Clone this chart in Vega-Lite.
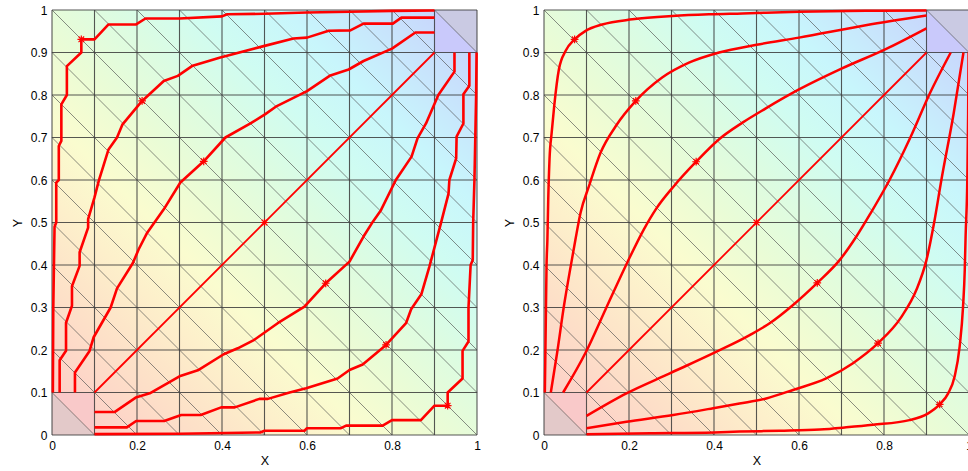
{
"$schema":"https://vega.github.io/schema/vega-lite/v6.json",
"background":"white",
"padding":{"left":11,"top":4,"right":0,"bottom":0},
"spacing":22,
"config":{"view":{"stroke":null},"font":"Liberation Sans",
 "axis":{"grid":false,"domain":false,"ticks":false,"labelFont":"Liberation Sans","labelFontSize":12,"labelColor":"#000","labelPadding":5,"labelFlush":false,"titleFont":"Liberation Sans","titleFontSize":12.5,"titleFontWeight":"normal","titleColor":"#000"},
 "axisX":{"titlePadding":3},"axisY":{"titlePadding":6}},
"datasets":{
"grid":[{"v":0},{"v":0.1},{"v":0.2},{"v":0.3},{"v":0.4},{"v":0.5},{"v":0.6},{"v":0.7},{"v":0.8},{"v":0.9},{"v":1}],
"diag":[{"x":0,"y":0.1,"x2":0.1,"y2":0},{"x":0,"y":0.2,"x2":0.2,"y2":0},{"x":0,"y":0.3,"x2":0.3,"y2":0},{"x":0,"y":0.4,"x2":0.4,"y2":0},{"x":0,"y":0.5,"x2":0.5,"y2":0},{"x":0,"y":0.6,"x2":0.6,"y2":0},{"x":0,"y":0.7,"x2":0.7,"y2":0},{"x":0,"y":0.8,"x2":0.8,"y2":0},{"x":0,"y":0.9,"x2":0.9,"y2":0},{"x":0,"y":1,"x2":1,"y2":0},{"x":0.1,"y":1,"x2":1,"y2":0.1},{"x":0.2,"y":1,"x2":1,"y2":0.2},{"x":0.3,"y":1,"x2":1,"y2":0.3},{"x":0.4,"y":1,"x2":1,"y2":0.4},{"x":0.5,"y":1,"x2":1,"y2":0.5},{"x":0.6,"y":1,"x2":1,"y2":0.6},{"x":0.7,"y":1,"x2":1,"y2":0.7},{"x":0.8,"y":1,"x2":1,"y2":0.8},{"x":0.9,"y":1,"x2":1,"y2":0.9}],
"corner":[{"patch":"s0","x":0,"y":0.1,"y2":0},{"patch":"s0","x":0.1,"y":0,"y2":0},{"patch":"s1","x":0,"y":0.1,"y2":0.1},{"patch":"s1","x":0.1,"y":0.1,"y2":0},{"patch":"k0","x":0.9,"y":1,"y2":0.9},{"patch":"k0","x":1,"y":0.9,"y2":0.9},{"patch":"k1","x":0.9,"y":1,"y2":1},{"patch":"k1","x":1,"y":1,"y2":0.9}],
"stars":[{"p":"A","x":0.069,"y":0.931},{"p":"A","x":0.212,"y":0.786},{"p":"A","x":0.357,"y":0.644},{"p":"A","x":0.5,"y":0.5},{"p":"A","x":0.644,"y":0.357},{"p":"A","x":0.786,"y":0.212},{"p":"A","x":0.931,"y":0.069},
{"p":"B","x":0.072,"y":0.931},{"p":"B","x":0.216,"y":0.786},{"p":"B","x":0.358,"y":0.643},{"p":"B","x":0.5,"y":0.5},{"p":"B","x":0.643,"y":0.358},{"p":"B","x":0.786,"y":0.216},{"p":"B","x":0.931,"y":0.072}],
"flow":[
{"p":"A","id":1,"o":1,"x":0.002,"y":0.1},{"p":"A","id":1,"o":2,"x":0.003,"y":0.3},{"p":"A","id":1,"o":3,"x":0.006,"y":0.49},{"p":"A","id":1,"o":4,"x":0.01,"y":0.5},{"p":"A","id":1,"o":5,"x":0.01,"y":0.594},{"p":"A","id":1,"o":6,"x":0.016,"y":0.6},{"p":"A","id":1,"o":7,"x":0.016,"y":0.68},{"p":"A","id":1,"o":8,"x":0.022,"y":0.692},{"p":"A","id":1,"o":9,"x":0.022,"y":0.778},{"p":"A","id":1,"o":10,"x":0.035,"y":0.8},{"p":"A","id":1,"o":11,"x":0.035,"y":0.868},{"p":"A","id":1,"o":12,"x":0.069,"y":0.9},{"p":"A","id":1,"o":13,"x":0.069,"y":0.931},{"p":"A","id":1,"o":14,"x":0.1,"y":0.931},{"p":"A","id":1,"o":15,"x":0.133,"y":0.966},{"p":"A","id":1,"o":16,"x":0.198,"y":0.966},{"p":"A","id":1,"o":17,"x":0.22,"y":0.98},{"p":"A","id":1,"o":18,"x":0.3,"y":0.98},{"p":"A","id":1,"o":19,"x":0.4,"y":0.985},{"p":"A","id":1,"o":20,"x":0.412,"y":0.99},{"p":"A","id":1,"o":21,"x":0.5,"y":0.991},{"p":"A","id":1,"o":22,"x":0.6,"y":0.994},{"p":"A","id":1,"o":23,"x":0.7,"y":0.996},{"p":"A","id":1,"o":24,"x":0.8,"y":0.998},{"p":"A","id":1,"o":25,"x":0.9,"y":0.999},
{"p":"A","id":2,"o":1,"x":0.018,"y":0.1},{"p":"A","id":2,"o":2,"x":0.018,"y":0.176},{"p":"A","id":2,"o":3,"x":0.033,"y":0.198},{"p":"A","id":2,"o":4,"x":0.033,"y":0.264},{"p":"A","id":2,"o":5,"x":0.047,"y":0.304},{"p":"A","id":2,"o":6,"x":0.047,"y":0.35},{"p":"A","id":2,"o":7,"x":0.065,"y":0.398},{"p":"A","id":2,"o":8,"x":0.065,"y":0.43},{"p":"A","id":2,"o":9,"x":0.085,"y":0.488},{"p":"A","id":2,"o":10,"x":0.085,"y":0.508},{"p":"A","id":2,"o":11,"x":0.1,"y":0.559},{"p":"A","id":2,"o":12,"x":0.11,"y":0.598},{"p":"A","id":2,"o":13,"x":0.133,"y":0.672},{"p":"A","id":2,"o":14,"x":0.153,"y":0.7},{"p":"A","id":2,"o":15,"x":0.166,"y":0.731},{"p":"A","id":2,"o":16,"x":0.212,"y":0.786},{"p":"A","id":2,"o":17,"x":0.263,"y":0.833},{"p":"A","id":2,"o":18,"x":0.296,"y":0.845},{"p":"A","id":2,"o":19,"x":0.331,"y":0.869},{"p":"A","id":2,"o":20,"x":0.396,"y":0.888},{"p":"A","id":2,"o":21,"x":0.498,"y":0.915},{"p":"A","id":2,"o":22,"x":0.568,"y":0.933},{"p":"A","id":2,"o":23,"x":0.6,"y":0.935},{"p":"A","id":2,"o":24,"x":0.651,"y":0.951},{"p":"A","id":2,"o":25,"x":0.702,"y":0.952},{"p":"A","id":2,"o":26,"x":0.733,"y":0.968},{"p":"A","id":2,"o":27,"x":0.802,"y":0.968},{"p":"A","id":2,"o":28,"x":0.822,"y":0.982},{"p":"A","id":2,"o":29,"x":0.9,"y":0.982},
{"p":"A","id":3,"o":1,"x":0.054,"y":0.1},{"p":"A","id":3,"o":2,"x":0.054,"y":0.147},{"p":"A","id":3,"o":3,"x":0.088,"y":0.197},{"p":"A","id":3,"o":4,"x":0.098,"y":0.23},{"p":"A","id":3,"o":5,"x":0.138,"y":0.3},{"p":"A","id":3,"o":6,"x":0.153,"y":0.345},{"p":"A","id":3,"o":7,"x":0.19,"y":0.404},{"p":"A","id":3,"o":8,"x":0.204,"y":0.437},{"p":"A","id":3,"o":9,"x":0.224,"y":0.476},{"p":"A","id":3,"o":10,"x":0.263,"y":0.531},{"p":"A","id":3,"o":11,"x":0.302,"y":0.594},{"p":"A","id":3,"o":12,"x":0.357,"y":0.644},{"p":"A","id":3,"o":13,"x":0.408,"y":0.7},{"p":"A","id":3,"o":14,"x":0.467,"y":0.733},{"p":"A","id":3,"o":15,"x":0.502,"y":0.755},{"p":"A","id":3,"o":16,"x":0.529,"y":0.774},{"p":"A","id":3,"o":17,"x":0.6,"y":0.809},{"p":"A","id":3,"o":18,"x":0.655,"y":0.846},{"p":"A","id":3,"o":19,"x":0.698,"y":0.86},{"p":"A","id":3,"o":20,"x":0.733,"y":0.88},{"p":"A","id":3,"o":21,"x":0.8,"y":0.909},{"p":"A","id":3,"o":22,"x":0.855,"y":0.947},{"p":"A","id":3,"o":23,"x":0.9,"y":0.947},
{"p":"A","id":4,"o":1,"x":0.1,"y":0.1},{"p":"A","id":4,"o":2,"x":0.9,"y":0.9},
{"p":"A","id":5,"o":1,"x":0.1,"y":0.054},{"p":"A","id":5,"o":2,"x":0.147,"y":0.054},{"p":"A","id":5,"o":3,"x":0.197,"y":0.088},{"p":"A","id":5,"o":4,"x":0.23,"y":0.098},{"p":"A","id":5,"o":5,"x":0.3,"y":0.138},{"p":"A","id":5,"o":6,"x":0.345,"y":0.153},{"p":"A","id":5,"o":7,"x":0.404,"y":0.19},{"p":"A","id":5,"o":8,"x":0.437,"y":0.204},{"p":"A","id":5,"o":9,"x":0.476,"y":0.224},{"p":"A","id":5,"o":10,"x":0.531,"y":0.263},{"p":"A","id":5,"o":11,"x":0.594,"y":0.302},{"p":"A","id":5,"o":12,"x":0.644,"y":0.357},{"p":"A","id":5,"o":13,"x":0.7,"y":0.408},{"p":"A","id":5,"o":14,"x":0.733,"y":0.467},{"p":"A","id":5,"o":15,"x":0.755,"y":0.502},{"p":"A","id":5,"o":16,"x":0.774,"y":0.529},{"p":"A","id":5,"o":17,"x":0.809,"y":0.6},{"p":"A","id":5,"o":18,"x":0.846,"y":0.655},{"p":"A","id":5,"o":19,"x":0.86,"y":0.698},{"p":"A","id":5,"o":20,"x":0.88,"y":0.733},{"p":"A","id":5,"o":21,"x":0.909,"y":0.8},{"p":"A","id":5,"o":22,"x":0.947,"y":0.855},{"p":"A","id":5,"o":23,"x":0.947,"y":0.9},
{"p":"A","id":6,"o":1,"x":0.1,"y":0.018},{"p":"A","id":6,"o":2,"x":0.176,"y":0.018},{"p":"A","id":6,"o":3,"x":0.198,"y":0.033},{"p":"A","id":6,"o":4,"x":0.264,"y":0.033},{"p":"A","id":6,"o":5,"x":0.304,"y":0.047},{"p":"A","id":6,"o":6,"x":0.35,"y":0.047},{"p":"A","id":6,"o":7,"x":0.398,"y":0.065},{"p":"A","id":6,"o":8,"x":0.43,"y":0.065},{"p":"A","id":6,"o":9,"x":0.488,"y":0.085},{"p":"A","id":6,"o":10,"x":0.508,"y":0.085},{"p":"A","id":6,"o":11,"x":0.559,"y":0.1},{"p":"A","id":6,"o":12,"x":0.598,"y":0.11},{"p":"A","id":6,"o":13,"x":0.672,"y":0.133},{"p":"A","id":6,"o":14,"x":0.7,"y":0.153},{"p":"A","id":6,"o":15,"x":0.731,"y":0.166},{"p":"A","id":6,"o":16,"x":0.786,"y":0.212},{"p":"A","id":6,"o":17,"x":0.833,"y":0.263},{"p":"A","id":6,"o":18,"x":0.845,"y":0.296},{"p":"A","id":6,"o":19,"x":0.869,"y":0.331},{"p":"A","id":6,"o":20,"x":0.888,"y":0.396},{"p":"A","id":6,"o":21,"x":0.915,"y":0.498},{"p":"A","id":6,"o":22,"x":0.933,"y":0.568},{"p":"A","id":6,"o":23,"x":0.935,"y":0.6},{"p":"A","id":6,"o":24,"x":0.951,"y":0.651},{"p":"A","id":6,"o":25,"x":0.952,"y":0.702},{"p":"A","id":6,"o":26,"x":0.968,"y":0.733},{"p":"A","id":6,"o":27,"x":0.968,"y":0.802},{"p":"A","id":6,"o":28,"x":0.982,"y":0.822},{"p":"A","id":6,"o":29,"x":0.982,"y":0.9},
{"p":"A","id":7,"o":1,"x":0.1,"y":0.002},{"p":"A","id":7,"o":2,"x":0.3,"y":0.003},{"p":"A","id":7,"o":3,"x":0.49,"y":0.006},{"p":"A","id":7,"o":4,"x":0.5,"y":0.01},{"p":"A","id":7,"o":5,"x":0.594,"y":0.01},{"p":"A","id":7,"o":6,"x":0.6,"y":0.016},{"p":"A","id":7,"o":7,"x":0.68,"y":0.016},{"p":"A","id":7,"o":8,"x":0.692,"y":0.022},{"p":"A","id":7,"o":9,"x":0.778,"y":0.022},{"p":"A","id":7,"o":10,"x":0.8,"y":0.035},{"p":"A","id":7,"o":11,"x":0.868,"y":0.035},{"p":"A","id":7,"o":12,"x":0.9,"y":0.069},{"p":"A","id":7,"o":13,"x":0.931,"y":0.069},{"p":"A","id":7,"o":14,"x":0.931,"y":0.1},{"p":"A","id":7,"o":15,"x":0.966,"y":0.133},{"p":"A","id":7,"o":16,"x":0.966,"y":0.198},{"p":"A","id":7,"o":17,"x":0.98,"y":0.22},{"p":"A","id":7,"o":18,"x":0.98,"y":0.3},{"p":"A","id":7,"o":19,"x":0.985,"y":0.4},{"p":"A","id":7,"o":20,"x":0.99,"y":0.412},{"p":"A","id":7,"o":21,"x":0.991,"y":0.5},{"p":"A","id":7,"o":22,"x":0.994,"y":0.6},{"p":"A","id":7,"o":23,"x":0.996,"y":0.7},{"p":"A","id":7,"o":24,"x":0.998,"y":0.8},{"p":"A","id":7,"o":25,"x":0.999,"y":0.9},
{"p":"B","id":1,"o":1,"x":0.002,"y":0.1},{"p":"B","id":1,"o":2,"x":0.004,"y":0.25},{"p":"B","id":1,"o":3,"x":0.006,"y":0.4},{"p":"B","id":1,"o":4,"x":0.008,"y":0.46},{"p":"B","id":1,"o":5,"x":0.01,"y":0.555},{"p":"B","id":1,"o":6,"x":0.013,"y":0.649},{"p":"B","id":1,"o":7,"x":0.018,"y":0.711},{"p":"B","id":1,"o":8,"x":0.024,"y":0.774},{"p":"B","id":1,"o":9,"x":0.035,"y":0.86},{"p":"B","id":1,"o":10,"x":0.051,"y":0.904},{"p":"B","id":1,"o":11,"x":0.072,"y":0.931},{"p":"B","id":1,"o":12,"x":0.098,"y":0.951},{"p":"B","id":1,"o":13,"x":0.137,"y":0.966},{"p":"B","id":1,"o":14,"x":0.208,"y":0.978},{"p":"B","id":1,"o":15,"x":0.302,"y":0.986},{"p":"B","id":1,"o":16,"x":0.388,"y":0.99},{"p":"B","id":1,"o":17,"x":0.467,"y":0.992},{"p":"B","id":1,"o":18,"x":0.6,"y":0.996},{"p":"B","id":1,"o":19,"x":0.757,"y":0.998},{"p":"B","id":1,"o":20,"x":0.9,"y":0.999},
{"p":"B","id":2,"o":1,"x":0.016,"y":0.1},{"p":"B","id":2,"o":2,"x":0.031,"y":0.194},{"p":"B","id":2,"o":3,"x":0.047,"y":0.304},{"p":"B","id":2,"o":4,"x":0.063,"y":0.398},{"p":"B","id":2,"o":5,"x":0.074,"y":0.46},{"p":"B","id":2,"o":6,"x":0.086,"y":0.523},{"p":"B","id":2,"o":7,"x":0.106,"y":0.586},{"p":"B","id":2,"o":8,"x":0.133,"y":0.664},{"p":"B","id":2,"o":9,"x":0.169,"y":0.727},{"p":"B","id":2,"o":10,"x":0.216,"y":0.786},{"p":"B","id":2,"o":11,"x":0.278,"y":0.841},{"p":"B","id":2,"o":12,"x":0.341,"y":0.876},{"p":"B","id":2,"o":13,"x":0.412,"y":0.9},{"p":"B","id":2,"o":14,"x":0.5,"y":0.918},{"p":"B","id":2,"o":15,"x":0.6,"y":0.935},{"p":"B","id":2,"o":16,"x":0.757,"y":0.964},{"p":"B","id":2,"o":17,"x":0.9,"y":0.987},
{"p":"B","id":3,"o":1,"x":0.045,"y":0.1},{"p":"B","id":3,"o":2,"x":0.098,"y":0.194},{"p":"B","id":3,"o":3,"x":0.145,"y":0.296},{"p":"B","id":3,"o":4,"x":0.196,"y":0.406},{"p":"B","id":3,"o":5,"x":0.235,"y":0.484},{"p":"B","id":3,"o":6,"x":0.263,"y":0.531},{"p":"B","id":3,"o":7,"x":0.306,"y":0.586},{"p":"B","id":3,"o":8,"x":0.358,"y":0.643},{"p":"B","id":3,"o":9,"x":0.412,"y":0.696},{"p":"B","id":3,"o":10,"x":0.467,"y":0.735},{"p":"B","id":3,"o":11,"x":0.521,"y":0.768},{"p":"B","id":3,"o":12,"x":0.6,"y":0.813},{"p":"B","id":3,"o":13,"x":0.7,"y":0.862},{"p":"B","id":3,"o":14,"x":0.804,"y":0.908},{"p":"B","id":3,"o":15,"x":0.9,"y":0.957},
{"p":"B","id":4,"o":1,"x":0.1,"y":0.1},{"p":"B","id":4,"o":2,"x":0.9,"y":0.9},
{"p":"B","id":5,"o":1,"x":0.1,"y":0.045},{"p":"B","id":5,"o":2,"x":0.194,"y":0.098},{"p":"B","id":5,"o":3,"x":0.296,"y":0.145},{"p":"B","id":5,"o":4,"x":0.406,"y":0.196},{"p":"B","id":5,"o":5,"x":0.484,"y":0.235},{"p":"B","id":5,"o":6,"x":0.531,"y":0.263},{"p":"B","id":5,"o":7,"x":0.586,"y":0.306},{"p":"B","id":5,"o":8,"x":0.643,"y":0.358},{"p":"B","id":5,"o":9,"x":0.696,"y":0.412},{"p":"B","id":5,"o":10,"x":0.735,"y":0.467},{"p":"B","id":5,"o":11,"x":0.768,"y":0.521},{"p":"B","id":5,"o":12,"x":0.813,"y":0.6},{"p":"B","id":5,"o":13,"x":0.862,"y":0.7},{"p":"B","id":5,"o":14,"x":0.908,"y":0.804},{"p":"B","id":5,"o":15,"x":0.957,"y":0.9},
{"p":"B","id":6,"o":1,"x":0.1,"y":0.016},{"p":"B","id":6,"o":2,"x":0.194,"y":0.031},{"p":"B","id":6,"o":3,"x":0.304,"y":0.047},{"p":"B","id":6,"o":4,"x":0.398,"y":0.063},{"p":"B","id":6,"o":5,"x":0.46,"y":0.074},{"p":"B","id":6,"o":6,"x":0.523,"y":0.086},{"p":"B","id":6,"o":7,"x":0.586,"y":0.106},{"p":"B","id":6,"o":8,"x":0.664,"y":0.133},{"p":"B","id":6,"o":9,"x":0.727,"y":0.169},{"p":"B","id":6,"o":10,"x":0.786,"y":0.216},{"p":"B","id":6,"o":11,"x":0.841,"y":0.278},{"p":"B","id":6,"o":12,"x":0.876,"y":0.341},{"p":"B","id":6,"o":13,"x":0.9,"y":0.412},{"p":"B","id":6,"o":14,"x":0.918,"y":0.5},{"p":"B","id":6,"o":15,"x":0.935,"y":0.6},{"p":"B","id":6,"o":16,"x":0.964,"y":0.757},{"p":"B","id":6,"o":17,"x":0.987,"y":0.9},
{"p":"B","id":7,"o":1,"x":0.1,"y":0.002},{"p":"B","id":7,"o":2,"x":0.25,"y":0.004},{"p":"B","id":7,"o":3,"x":0.4,"y":0.006},{"p":"B","id":7,"o":4,"x":0.46,"y":0.008},{"p":"B","id":7,"o":5,"x":0.555,"y":0.01},{"p":"B","id":7,"o":6,"x":0.649,"y":0.013},{"p":"B","id":7,"o":7,"x":0.711,"y":0.018},{"p":"B","id":7,"o":8,"x":0.774,"y":0.024},{"p":"B","id":7,"o":9,"x":0.86,"y":0.035},{"p":"B","id":7,"o":10,"x":0.904,"y":0.051},{"p":"B","id":7,"o":11,"x":0.931,"y":0.072},{"p":"B","id":7,"o":12,"x":0.951,"y":0.098},{"p":"B","id":7,"o":13,"x":0.966,"y":0.137},{"p":"B","id":7,"o":14,"x":0.978,"y":0.208},{"p":"B","id":7,"o":15,"x":0.986,"y":0.302},{"p":"B","id":7,"o":16,"x":0.99,"y":0.388},{"p":"B","id":7,"o":17,"x":0.992,"y":0.467},{"p":"B","id":7,"o":18,"x":0.996,"y":0.6},{"p":"B","id":7,"o":19,"x":0.998,"y":0.757},{"p":"B","id":7,"o":20,"x":0.999,"y":0.9}
]},
"hconcat":[
{"width":425,"height":425,"layer":[
 {"data":{"values":[{}]},
  "mark":{"type":"rect","fill":{"gradient":"linear","x1":0,"y1":1,"x2":1,"y2":0,"stops":[{"offset":0,"color":"#fcc6c6"},{"offset":0.08,"color":"#fdd3c8"},{"offset":0.18,"color":"#fde1c8"},{"offset":0.28,"color":"#fdf0cb"},{"offset":0.37,"color":"#fafccf"},{"offset":0.47,"color":"#eafcd6"},{"offset":0.57,"color":"#dcfce2"},{"offset":0.67,"color":"#cffcf2"},{"offset":0.77,"color":"#c8f6fc"},{"offset":0.87,"color":"#c8e4fc"},{"offset":1,"color":"#c8cefc"}]}},
  "encoding":{
   "x":{"datum":0,"type":"quantitative","scale":{"domain":[0,1],"nice":false},"axis":{"values":[0,0.2,0.4,0.6,0.8,1],"format":"~g","title":"X"}},
   "x2":{"datum":1},
   "y":{"datum":0,"type":"quantitative","scale":{"domain":[0,1],"nice":false},"axis":{"values":[0,0.1,0.2,0.3,0.4,0.5,0.6,0.7,0.8,0.9,1],"format":"~g","title":"Y"}},
   "y2":{"datum":1}}},
 {"data":{"name":"corner"},"mark":{"type":"area"},
  "encoding":{"x":{"field":"x","type":"quantitative"},"y":{"field":"y","type":"quantitative"},"y2":{"field":"y2"},
   "color":{"field":"patch","type":"nominal","scale":{"domain":["s0","s1","k0","k1"],"range":["#e3c9c9","#f9c9c9","#c9c9fb","#cacae3"]},"legend":null}}},
 {"data":{"name":"grid"},"mark":{"type":"rule","color":"#3a3a3a","strokeWidth":1.1,"opacity":0.85},"encoding":{"x":{"field":"v","type":"quantitative"}}},
 {"data":{"name":"grid"},"mark":{"type":"rule","color":"#3a3a3a","strokeWidth":1.1,"opacity":0.85},"encoding":{"y":{"field":"v","type":"quantitative"}}},
 {"data":{"name":"diag"},"mark":{"type":"rule","color":"#4a4a4a","strokeWidth":0.7,"opacity":0.9},
  "encoding":{"x":{"field":"x","type":"quantitative"},"y":{"field":"y","type":"quantitative"},"x2":{"field":"x2"},"y2":{"field":"y2"}}},
 {"data":{"name":"flow"},"transform":[{"filter":"datum.p == 'A'"}],
  "mark":{"type":"line","color":"#ff0000","interpolate":"linear","strokeJoin":"round"},
  "encoding":{"x":{"field":"x","type":"quantitative"},"y":{"field":"y","type":"quantitative"},"detail":{"field":"id","type":"nominal"},"order":{"field":"o","type":"quantitative"},
   "strokeWidth":{"condition":{"test":"datum.id == 4","value":1.8},"value":2.6}}},
 {"data":{"name":"stars"},"transform":[{"filter":"datum.p == 'A'"}],
  "mark":{"type":"point","shape":"M-1,0L1,0M0,-1L0,1M-0.72,-0.72L0.72,0.72M-0.72,0.72L0.72,-0.72","size":60,"filled":false,"color":"#ff0000","strokeWidth":1.2,"opacity":1},
  "encoding":{"x":{"field":"x","type":"quantitative"},"y":{"field":"y","type":"quantitative"}}}
]},
{"width":425,"height":425,"layer":[
 {"data":{"values":[{}]},
  "mark":{"type":"rect","fill":{"gradient":"linear","x1":0,"y1":1,"x2":1,"y2":0,"stops":[{"offset":0,"color":"#fcc6c6"},{"offset":0.08,"color":"#fdd3c8"},{"offset":0.18,"color":"#fde1c8"},{"offset":0.28,"color":"#fdf0cb"},{"offset":0.37,"color":"#fafccf"},{"offset":0.47,"color":"#eafcd6"},{"offset":0.57,"color":"#dcfce2"},{"offset":0.67,"color":"#cffcf2"},{"offset":0.77,"color":"#c8f6fc"},{"offset":0.87,"color":"#c8e4fc"},{"offset":1,"color":"#c8cefc"}]}},
  "encoding":{
   "x":{"datum":0,"type":"quantitative","scale":{"domain":[0,1],"nice":false},"axis":{"values":[0,0.2,0.4,0.6,0.8,1],"format":"~g","title":"X"}},
   "x2":{"datum":1},
   "y":{"datum":0,"type":"quantitative","scale":{"domain":[0,1],"nice":false},"axis":{"values":[0,0.1,0.2,0.3,0.4,0.5,0.6,0.7,0.8,0.9,1],"format":"~g","title":"Y"}},
   "y2":{"datum":1}}},
 {"data":{"name":"corner"},"mark":{"type":"area"},
  "encoding":{"x":{"field":"x","type":"quantitative"},"y":{"field":"y","type":"quantitative"},"y2":{"field":"y2"},
   "color":{"field":"patch","type":"nominal","scale":{"domain":["s0","s1","k0","k1"],"range":["#e3c9c9","#f9c9c9","#c9c9fb","#cacae3"]},"legend":null}}},
 {"data":{"name":"grid"},"mark":{"type":"rule","color":"#3a3a3a","strokeWidth":1.1,"opacity":0.85},"encoding":{"x":{"field":"v","type":"quantitative"}}},
 {"data":{"name":"grid"},"mark":{"type":"rule","color":"#3a3a3a","strokeWidth":1.1,"opacity":0.85},"encoding":{"y":{"field":"v","type":"quantitative"}}},
 {"data":{"name":"diag"},"mark":{"type":"rule","color":"#4a4a4a","strokeWidth":0.7,"opacity":0.9},
  "encoding":{"x":{"field":"x","type":"quantitative"},"y":{"field":"y","type":"quantitative"},"x2":{"field":"x2"},"y2":{"field":"y2"}}},
 {"data":{"name":"flow"},"transform":[{"filter":"datum.p == 'B'"}],
  "mark":{"type":"line","color":"#ff0000","interpolate":"monotone","strokeJoin":"round"},
  "encoding":{"x":{"field":"x","type":"quantitative"},"y":{"field":"y","type":"quantitative"},"detail":{"field":"id","type":"nominal"},"order":{"field":"o","type":"quantitative"},
   "strokeWidth":{"condition":{"test":"datum.id == 4","value":1.8},"value":2.5}}},
 {"data":{"name":"stars"},"transform":[{"filter":"datum.p == 'B'"}],
  "mark":{"type":"point","shape":"M-1,0L1,0M0,-1L0,1M-0.72,-0.72L0.72,0.72M-0.72,0.72L0.72,-0.72","size":60,"filled":false,"color":"#ff0000","strokeWidth":1.2,"opacity":1},
  "encoding":{"x":{"field":"x","type":"quantitative"},"y":{"field":"y","type":"quantitative"}}}
]}
]
}
